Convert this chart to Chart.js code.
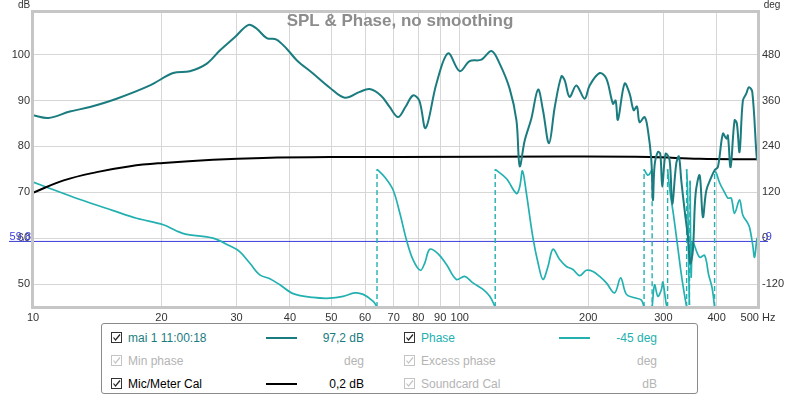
<!DOCTYPE html>
<html>
<head>
<meta charset="utf-8">
<script src="https://cdn.jsdelivr.net/npm/chart.js@4.4.1/dist/chart.umd.min.js"></script>
<style>
  body { margin: 0; background: #fff; font-family: "Liberation Sans", Arial, sans-serif; }
  #wrap { position: relative; width: 800px; height: 397px; overflow: hidden; }
  #chart { position: absolute; left: 0; top: 0; }
  .legend { position: absolute; left: 101px; top: 323px; width: 595px; height: 69px;
    border: 1px solid #8a8a8a; border-radius: 3px; font-size: 12px; }
  .row { position: absolute; height: 14px; line-height: 14px; white-space: nowrap; }
  .cb { position: absolute; top: 1px; width: 9px; height: 9px; border: 1px solid #333; }
  .cb svg { position: absolute; left: 0; top: 0; }
  .off { color: #b4b4b4; }
  .off .cb { border-color: #c4c4c4; }
  .txt { position: absolute; }
  .val { position: absolute; text-align: right; width: 90px; }
  .swatch { position: absolute; top: 6px; height: 2px; width: 31px; }
</style>
</head>
<body>
<div id="wrap">
  <canvas id="chart" width="800" height="322"></canvas>
  <div class="legend" id="legend"></div>
</div>
<script>
// frequency axis (Hz) and tick labels
const freqTicks = [10, 20, 30, 40, 50, 60, 70, 80, 90, 100, 200, 300, 400, 500];
const dbTicks = [50, 60, 70, 80, 90, 100];
const degTicks = [-120, 0, 120, 240, 360, 480];

// SPL, dB
const splFreq = [10, 10.86, 12.2, 13.6, 15.7, 18.8, 21.3, 23.3, 25.5, 27.4, 29.7, 32.0, 33.4, 35.3, 37.2, 39.3, 41.5,
  45.3, 49.6, 53.8, 58.3, 61.5, 65.5, 68.5, 71.7, 74.6, 77.7, 80.4, 83.2, 88.2, 93.9, 100, 105.5, 112.4, 118.7, 124.1,
  130.9, 135.8, 138.2, 142.0, 147.2, 152.6, 156.7, 161.9, 167.0, 173.1, 176.2, 180.9, 187.6, 196.2, 201.6, 212.8,
  220.6, 228.6, 231.9, 234.8, 243.4, 250.1, 255.6, 260.2, 263.9, 271.2, 276.1, 281.2, 283.6, 286.2, 291.3, 295.1,
  298.3, 303.7, 310.3, 314.8, 321.7, 326.3, 330.5, 336.5, 342.5, 347.0, 351.9, 357.1, 364.9, 371.4, 378.3, 388.6,
  395.6, 402.7, 413.8, 421.4, 425.0, 431.2, 440.6, 446.1, 452.6, 460.8, 469.3, 476.0, 484.8, 497.0, 500];
const splDb = [86.8, 86.2, 87.6, 88.6, 90.4, 93.3, 96.0, 96.4, 98.0, 100.9, 103.8, 106.5, 105.7, 103.6, 103.3, 101.3, 98.8,
  95.9, 92.8, 90.6, 91.9, 92.5, 91.0, 88.6, 86.4, 88.6, 91.1, 90.0, 84.0, 93.7, 100.3, 96.4, 98.6, 98.9, 100.8, 98.0,
  92.6, 85.7, 75.7, 81.3, 86.1, 92.4, 87.9, 80.7, 88.6, 95.3, 94.4, 90.8, 93.3, 90.4, 93.3, 96.0,
  94.8, 89.3, 90.0, 85.8, 93.7, 91.5, 87.9, 88.7, 85.3, 86.4, 83.5, 77.0, 68.3, 75.9, 78.8, 78.4,
  71.2, 78.4, 77.0, 67.5, 76.3, 77.8, 72.6, 66.1, 60.3, 54.5, 57.4, 69.7, 73.7, 64.6, 70.4, 73.3,
  74.8, 75.5, 82.8, 81.7, 82.4, 75.5, 85.7, 85.0, 78.8, 90.0, 91.5, 92.9, 91.9, 77.3, 80.0];

// Mic/Meter calibration, dB
const calFreq = [10, 11.8, 14.1, 16.9, 20.2, 26.4, 34.6, 49.6, 71.1, 177.8, 278.6, 364.9, 500];
const calDb = [69.9, 72.6, 74.4, 75.7, 76.4, 77.1, 77.5, 77.7, 77.7, 77.8, 77.7, 77.3, 77.2];

// Phase, deg (wrapped at +-180)
const phaseFreq = [10, 10.96, 12.89, 15.42, 17.49, 20.2, 21.7, 22.9, 26.4, 28.9, 30.5, 32.2, 34.0, 35.9, 37.9, 40.7,
  45.3, 49.6, 53.3, 56.8, 59.4, 62.7, 64.0,
  64.0, 66.7, 69.8, 72.4, 75.0, 77.7, 80.9, 82.8, 85.1, 89.0, 93.1, 98.2, 102.7, 107.4, 113.4, 117.6, 121.1,
  121.1, 128.6, 135.8, 138.2, 140.3, 143.3, 148.5, 152.6, 156.7, 161.0, 165.4, 171.5, 177.8, 184.2, 191.0, 198.1,
  205.2, 212.8, 220.6, 230.7, 238.3, 245.8, 257.0, 266.5, 270.4,
  270.4, 275.6, 278.6, 282.4,
  282.4, 286.2, 291.3, 296.8, 299.3, 304.9, 307.0,
  307.0, 310.3, 317.0, 324.0, 331.1, 336.5, 340.2,
  340.2, 342.0, 343.9, 345.3, 346.6, 348.5, 350.4, 351.9, 364.9, 374.9, 383.0, 390.3, 395.6,
  395.6, 399.3, 406.4, 417.5, 425.0, 432.8, 440.6, 452.6, 460.8, 472.6, 477.8, 485.6, 490.8, 497.0, 500];
const phaseDeg = [147, 130, 101, 72, 52, 35, 19, 10, 0, -20, -35, -65, -96, -106, -122, -145,
  -155, -157, -152, -143, -147, -165, -180,
  180, 160, 126, 65, -4, -56, -84, -65, -29, -41, -69, -108, -100, -117, -134, -152, -180,
  180, 156, 117, 134, 176, 117, 0, -65, -108, -74, -29, -56, -74, -82, -98, -84,
  -87, -100, -117, -143, -104, -147, -156, -162, -180,
  180, 165, 168, 180,
  -180, -122, -152, -135, -115, -174, -180,
  180, 130, 60, -20, -100, -150, -180,
  180, 120, -60, -175, 150, -100, -20, -10, -50, -45, -95, -130, -180,
  175, 170, 145, 120, 105, 105, 65, 100, 60, 40, 28, -15, -50, -2, 3];

const markerDb = 59.4;
const markerLeft = '59,8';
const markerRight = '-9';

const splColor = '#1b7c7f';
const phaseColor = '#23b0b0';

// split phase at the wraps: solid pieces plus dashed jump lines
const phaseMain = [];
const phaseWraps = [];
phaseFreq.forEach(function (f, i) {
  if (i > 0 && Math.abs(phaseDeg[i] - phaseDeg[i - 1]) > 300) {
    phaseMain.push({ x: f, y: null });
    phaseWraps.push({ x: phaseFreq[i - 1], y: phaseDeg[i - 1] }, { x: f, y: phaseDeg[i] }, { x: f, y: null });
  }
  phaseMain.push({ x: f, y: phaseDeg[i] });
});

const toPoints = (xs, ys) => xs.map((x, i) => ({ x: x, y: ys[i] }));

const overlay = {
  id: 'overlay',
  beforeDatasetsDraw(chart) {
    const ctx = chart.ctx;
    const y = chart.scales.y.getPixelForValue(markerDb);
    ctx.save();
    ctx.strokeStyle = '#3b3bdc';
    ctx.lineWidth = 1;
    ctx.beginPath();
    ctx.moveTo(9, y + 0.5);
    ctx.lineTo(768, y + 0.5);
    ctx.stroke();
    ctx.restore();
  },
  afterDraw(chart) {
    const ctx = chart.ctx;
    const a = chart.chartArea;
    ctx.save();
    // plot frame
    ctx.strokeStyle = '#c6c6c6';
    ctx.lineWidth = 3;
    ctx.strokeRect(a.left - 0.5, a.top - 0.5, a.right - a.left + 1, a.bottom - a.top + 1);
    // title
    ctx.fillStyle = '#8c8c8c';
    ctx.font = 'bold 17px "Liberation Sans", Arial, sans-serif';
    ctx.textAlign = 'center';
    ctx.textBaseline = 'middle';
    ctx.fillText('SPL & Phase, no smoothing', 400, 21);
    // axis units
    ctx.fillStyle = '#333';
    ctx.font = '10px "Liberation Sans", Arial, sans-serif';
    ctx.textAlign = 'center';
    ctx.fillText('dB', 24, 5);
    ctx.fillText('deg', 772, 5);
    // marker labels
    const y = chart.scales.y.getPixelForValue(markerDb);
    ctx.fillStyle = '#3b3bdc';
    ctx.strokeStyle = '#3b3bdc';
    ctx.lineWidth = 1;
    ctx.font = '11px "Liberation Sans", Arial, sans-serif';
    ctx.textBaseline = 'alphabetic';
    ctx.textAlign = 'right';
    ctx.fillText(markerLeft, 31, y - 1);
    ctx.textAlign = 'left';
    ctx.fillText(markerRight, 762, y - 1);
    ctx.restore();
  }
};

const tickFont = { size: 11, family: '"Liberation Sans", Arial, sans-serif' };

new Chart(document.getElementById('chart'), {
  type: 'line',
  data: {
    datasets: [
      { label: 'mai 1 11:00:18', data: toPoints(splFreq, splDb), yAxisID: 'y', borderColor: splColor,
        borderWidth: 2, tension: 0.35 },
      { label: 'Mic/Meter Cal', data: toPoints(calFreq, calDb), yAxisID: 'y', borderColor: '#000',
        borderWidth: 2, tension: 0.4 },
      { label: 'Phase', data: phaseMain, yAxisID: 'y2', borderColor: phaseColor, borderWidth: 1.7,
        tension: 0.35, spanGaps: false },
      { label: 'wraps', data: phaseWraps, yAxisID: 'y2', borderColor: phaseColor, borderWidth: 1.4,
        borderDash: [5, 3], tension: 0, spanGaps: false }
    ]
  },
  options: {
    responsive: false,
    animation: false,
    devicePixelRatio: 1,
    layout: { padding: { top: 12, left: 0, right: 0, bottom: 0 } },
    elements: { point: { radius: 0 } },
    plugins: { legend: { display: false }, tooltip: { enabled: false } },
    scales: {
      x: {
        type: 'logarithmic', min: 10, max: 500,
        afterBuildTicks: s => { s.ticks = freqTicks.map(v => ({ value: v })); },
        afterFit: s => { s.height = 15; },
        grid: { color: '#d6d6d6', drawTicks: false },
        border: { display: false },
        ticks: { autoSkip: false, maxRotation: 0, padding: 4, color: '#333', font: tickFont,
          callback: v => (v === 500 ? '500 Hz' : String(v)) }
      },
      y: {
        position: 'left', min: 45, max: 109.3,
        afterBuildTicks: s => { s.ticks = dbTicks.map(v => ({ value: v })); },
        afterFit: s => { s.width = 33; },
        grid: { color: '#d6d6d6', drawTicks: false },
        border: { display: false },
        ticks: { padding: 3, color: '#333', font: tickFont }
      },
      y2: {
        position: 'right', min: -180, max: 591.6,
        afterBuildTicks: s => { s.ticks = degTicks.map(v => ({ value: v })); },
        afterFit: s => { s.width = 42; },
        grid: { display: false, drawTicks: false },
        border: { display: false },
        ticks: { padding: 4, color: '#333', font: tickFont }
      }
    }
  },
  plugins: [overlay]
});

// legend box
const checkSvg = function (color) {
  return '<svg width="9" height="9"><polyline points="1.5,4.5 3.5,7 8,1.5" fill="none" stroke="' + color +
    '" stroke-width="1.2"/></svg>';
};
const legendRows = [
  { left: 9, top: 7, label: 'mai 1 11:00:18', value: '97,2 dB', color: splColor, line: splColor },
  { left: 302, top: 7, label: 'Phase', value: '-45 deg', color: phaseColor, line: phaseColor },
  { left: 9, top: 30, label: 'Min phase', value: 'deg', off: true },
  { left: 302, top: 30, label: 'Excess phase', value: 'deg', off: true },
  { left: 9, top: 53, label: 'Mic/Meter Cal', value: '0,2 dB', color: '#000', line: '#000' },
  { left: 302, top: 53, label: 'Soundcard Cal', value: 'dB', off: true }
];
const legend = document.getElementById('legend');
legendRows.forEach(function (r) {
  const row = document.createElement('div');
  row.className = 'row' + (r.off ? ' off' : '');
  row.style.left = r.left + 'px';
  row.style.top = r.top + 'px';
  row.style.width = '260px';
  let html = '<span class="cb">' + checkSvg(r.off ? '#c4c4c4' : '#222') + '</span>';
  html += '<span class="txt" style="left:17px;' + (r.color ? 'color:' + r.color : '') + '">' + r.label + '</span>';
  if (r.line) {
    html += '<span class="swatch" style="left:155px;background:' + r.line + '"></span>';
  }
  html += '<span class="val" style="left:163px;' + (r.color ? 'color:' + r.color : '') + '">' + r.value + '</span>';
  row.innerHTML = html;
  legend.appendChild(row);
});
</script>
</body>
</html>
